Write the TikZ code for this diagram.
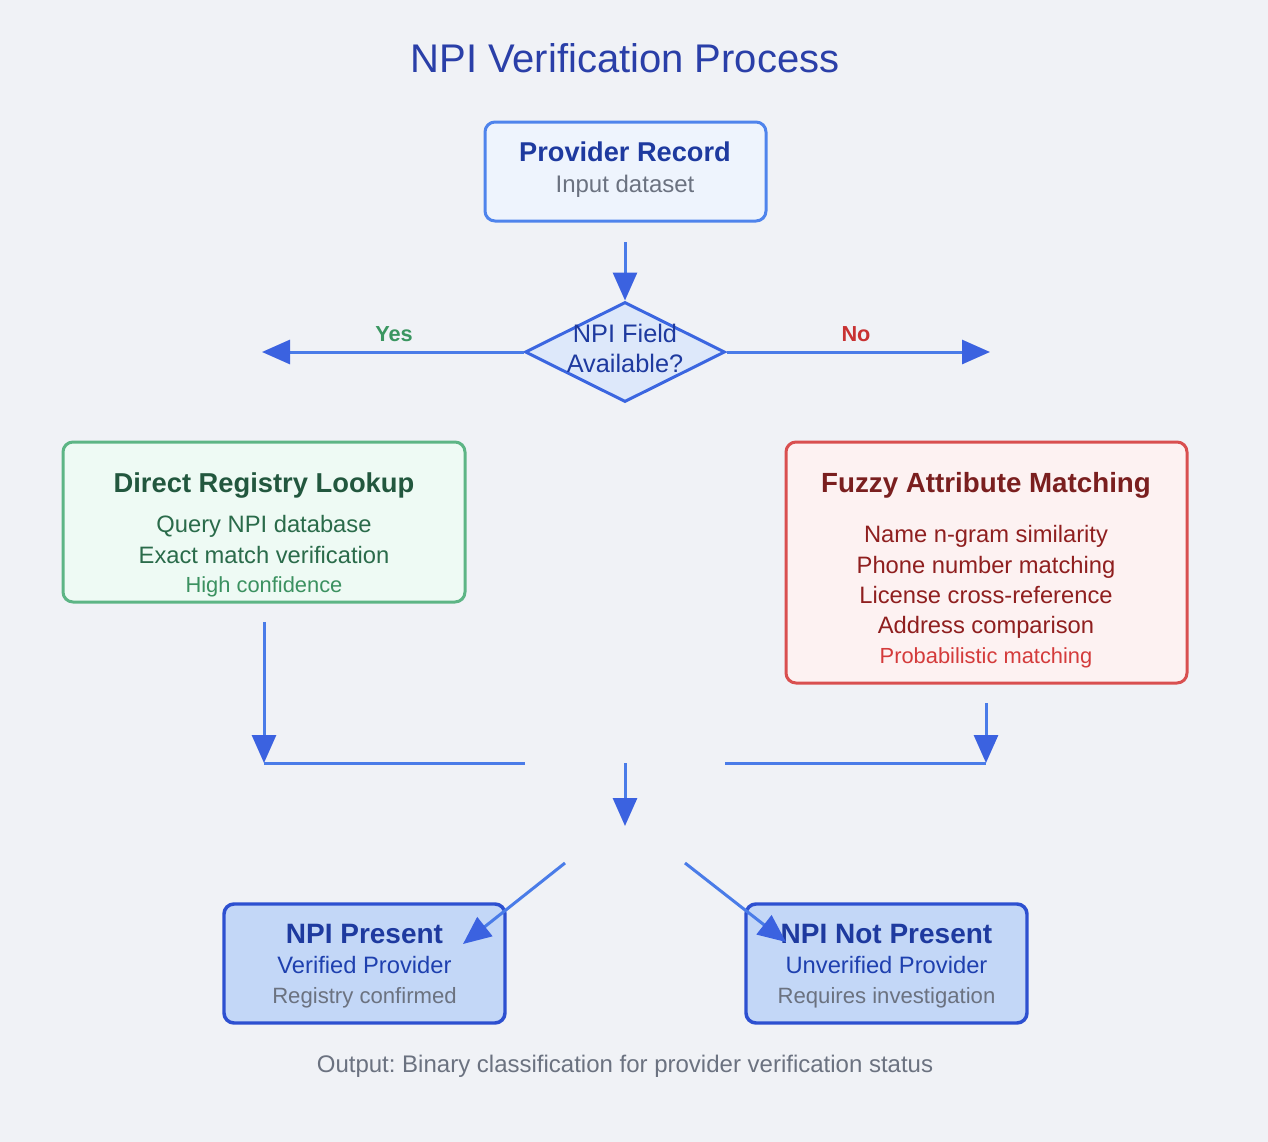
\documentclass[tikz,border=0pt]{standalone}
\usepackage{fontspec}
\setmainfont{Liberation Sans}
\usetikzlibrary{arrows.meta,shapes.geometric}
\definecolor{bgc}{HTML}{F0F2F6}
\definecolor{titlec}{HTML}{2A3FA8}
\definecolor{navy}{HTML}{1E3A9F}
\definecolor{grayt}{HTML}{6B7280}
\definecolor{linec}{HTML}{4A7CE8}
\definecolor{headc}{HTML}{3B62E0}
\definecolor{provfill}{HTML}{EEF4FD}
\definecolor{provdraw}{HTML}{4F84EC}
\definecolor{diafill}{HTML}{DDE8FA}
\definecolor{diadraw}{HTML}{3B66E0}
\definecolor{gfill}{HTML}{EEFAF4}
\definecolor{gdraw}{HTML}{5DB585}
\definecolor{gtitle}{HTML}{22573E}
\definecolor{gbody}{HTML}{2A6B4A}
\definecolor{gsmall}{HTML}{3B9160}
\definecolor{yesc}{HTML}{3A9660}
\definecolor{rfill}{HTML}{FDF2F2}
\definecolor{rdraw}{HTML}{D95050}
\definecolor{rtitle}{HTML}{7A1F1F}
\definecolor{rbody}{HTML}{8F1F1F}
\definecolor{rsmall}{HTML}{D43B3B}
\definecolor{noc}{HTML}{C83232}
\definecolor{bfill}{HTML}{C3D7F7}
\definecolor{bdraw}{HTML}{2D50D0}
\definecolor{bbody}{HTML}{1E40AF}
\newcommand\fsz[1]{\fontsize{#1}{#1}\selectfont}
\frenchspacing
\begin{document}
\begin{tikzpicture}[x=0.75pt,y=-0.75pt,
  box/.style={draw, rounded corners=7.5pt, line width=2.25pt, inner sep=0pt},
  txt/.style={anchor=base, inner sep=0pt},
  conn/.style={draw=linec, line width=2.25pt, -{Triangle[length=21pt,width=18pt,color=headc]}},
  plain/.style={draw=linec, line width=2.25pt}]
\fill[bgc] (0,0) rectangle (1268,1142);
\path[use as bounding box] (0,0) rectangle (1268,1142);

\node[txt, text=titlec] (title) at (625,72) {\fsz{30}NPI Verification Process};

% provider
\node[box, draw=provdraw, fill=provfill, minimum width=210.75pt, minimum height=74.25pt] (prov) at (625.5,171.5) {};
\node[txt, text=navy] (provt) at (625,161) {\fsz{20.4}\bfseries Provider Record};
\node[txt, text=grayt] (provs) at (625,192) {\fsz{18}Input dataset};

% diamond
\node[draw=diadraw, fill=diafill, line width=2.25pt, shape=diamond, inner sep=0pt, minimum width=150pt, minimum height=75pt] (dia) at (625,352) {};
\node[txt, text=navy] (dia1) at (625,342) {\fsz{19}NPI Field};
\node[txt, text=navy] (dia2) at (625,372) {\fsz{19}Available?};

\coordinate (pA) at (625,242);
\draw[conn] (pA) -- (dia.north);
\coordinate (yesEnd) at (262,352);
\coordinate (noEnd) at (990,352);
\draw[conn] (dia.west) -- (yesEnd);
\draw[conn] (dia.east) -- (noEnd);
\node[txt, text=yesc] (yes) at (394,341) {\fsz{16.3}\bfseries Yes};
\node[txt, text=noc] (no) at (856,341) {\fsz{16.3}\bfseries No};

% direct
\node[box, draw=gdraw, fill=gfill, minimum width=301.5pt, minimum height=120pt] (direct) at (264,522) {};
\node[txt, text=gtitle] (dt) at (264,492) {\fsz{20.5}\bfseries Direct Registry Lookup};
\node[txt, text=gbody] (d1) at (264,532) {\fsz{17.8}Query NPI database};
\node[txt, text=gbody] (d2) at (264,563) {\fsz{17.8}Exact match verification};
\node[txt, text=gsmall] (d3) at (264,592) {\fsz{16.4}High confidence};

% fuzzy
\node[box, draw=rdraw, fill=rfill, minimum width=300.75pt, minimum height=180.75pt] (fuzzy) at (986.5,562.5) {};
\node[txt, text=rtitle] (ft) at (986,492) {\fsz{20.8}\bfseries Fuzzy Attribute Matching};
\node[txt, text=rbody] (f1) at (986,542) {\fsz{17.8}Name n-gram similarity};
\node[txt, text=rbody] (f2) at (986,573) {\fsz{17.8}Phone number matching};
\node[txt, text=rbody] (f3) at (986,603) {\fsz{17.8}License cross-reference};
\node[txt, text=rbody] (f4) at (986,633) {\fsz{17.8}Address comparison};
\node[txt, text=rsmall] (f5) at (986,663) {\fsz{16.4}Probabilistic matching};

% merge
\coordinate (dOut) at (264,622);
\coordinate (jL) at (264,763);
\coordinate (mL) at (525,763);
\coordinate (fOut) at (986,703);
\coordinate (jR) at (986,763);
\coordinate (mR) at (725,763);
\coordinate (c1) at (625,763);
\coordinate (c2) at (625,826);
\coordinate (s1) at (565,863);
\coordinate (s2) at (685,863);
\coordinate (e1) at (463,944);
\coordinate (e2) at (786,942);
\draw[conn] (dOut) -- (jL);
\draw[conn] (fOut) -- (jR);
\draw[plain] (jL) -- (mL);
\draw[plain] (mR) -- (jR);
\draw[conn] (c1) -- (c2);

% outcomes
\node[box, draw=bdraw, fill=bfill, line width=2.6pt, minimum width=210.75pt, minimum height=89.25pt] (pres) at (364.5,963.5) {};
\node[txt, text=navy] (pt) at (364.5,943) {\fsz{21}\bfseries NPI Present};
\node[txt, text=bbody] (p1) at (364.5,973) {\fsz{17.8}Verified Provider};
\node[txt, text=grayt] (p2) at (364.5,1003) {\fsz{16.6}Registry confirmed};

\node[box, draw=bdraw, fill=bfill, line width=2.6pt, minimum width=210.75pt, minimum height=89.25pt] (npres) at (886.5,963.5) {};
\node[txt, text=navy] (nt) at (886.5,943) {\fsz{21}\bfseries NPI Not Present};
\node[txt, text=bbody] (n1) at (886.5,973) {\fsz{17.8}Unverified Provider};
\node[txt, text=grayt] (n2) at (886.5,1003) {\fsz{16.6}Requires investigation};

\draw[conn] (s1) -- (e1);
\draw[conn] (s2) -- (e2);

\node[txt, text=grayt] (out) at (625,1072) {\fsz{18}Output: Binary classification for provider verification status};
\end{tikzpicture}
\end{document}
